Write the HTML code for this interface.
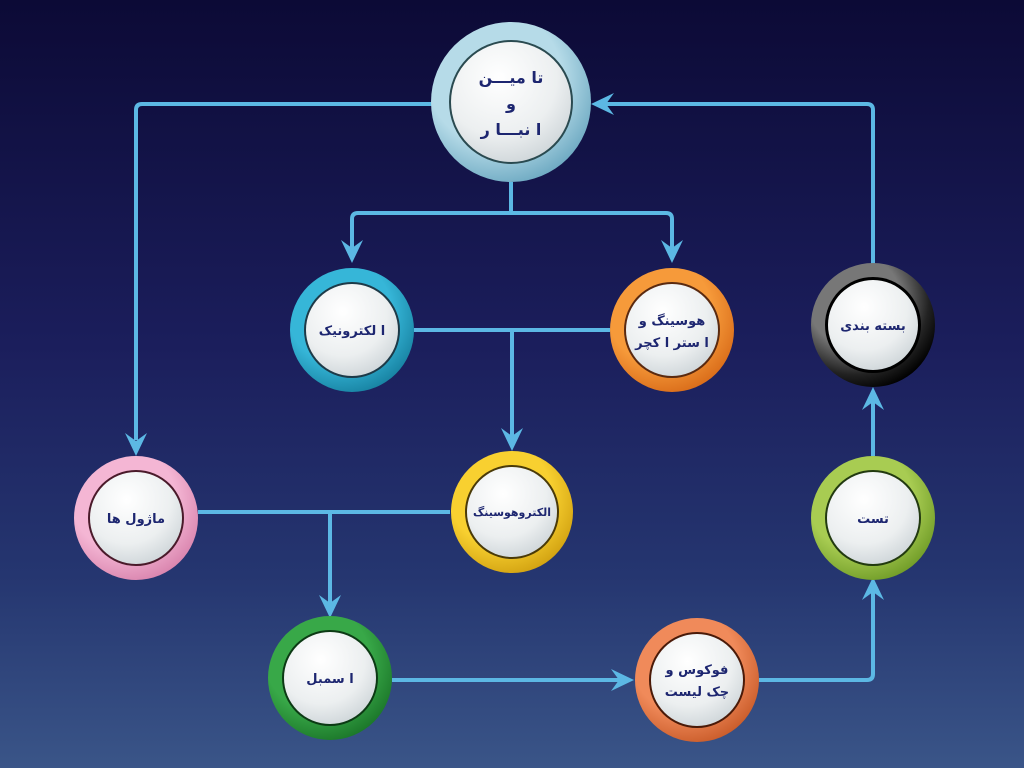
<!DOCTYPE html>
<html><head><meta charset="utf-8"><style>
html,body{margin:0;padding:0;width:1024px;height:768px;overflow:hidden;background:#0e0d3c}
svg{display:block}
text{font-family:"DejaVu Sans","Liberation Sans",sans-serif;font-weight:bold;fill:#1d2670;font-size:13px}
</style></head><body>
<svg width="1024" height="768" viewBox="0 0 1024 768" xmlns="http://www.w3.org/2000/svg">
<defs>
<linearGradient id="bg" x1="0" y1="0" x2="0" y2="1">
<stop offset="0" stop-color="#0c0a36"/><stop offset="0.45" stop-color="#1b1e5c"/><stop offset="0.75" stop-color="#253670"/><stop offset="1" stop-color="#3a5588"/></linearGradient>
<radialGradient id="inner" cx="0.4" cy="0.3" r="0.8"><stop offset="0" stop-color="#ffffff"/><stop offset="0.6" stop-color="#eceff0"/><stop offset="1" stop-color="#c8d0d4"/></radialGradient>
<radialGradient id="gblue" cx="0.4" cy="0.35" r="0.7"><stop offset="0.6" stop-color="#b6dbe8"/><stop offset="1" stop-color="#6aa7c0"/></radialGradient>
<radialGradient id="gcyan" cx="0.4" cy="0.35" r="0.7"><stop offset="0.6" stop-color="#36b6d8"/><stop offset="1" stop-color="#16809f"/></radialGradient>
<radialGradient id="gorange" cx="0.4" cy="0.35" r="0.7"><stop offset="0.6" stop-color="#f69a3a"/><stop offset="1" stop-color="#d86a18"/></radialGradient>
<radialGradient id="gblack" cx="0.35" cy="0.3" r="0.75"><stop offset="0.5" stop-color="#777"/><stop offset="0.8" stop-color="#222"/><stop offset="1" stop-color="#000"/></radialGradient>
<radialGradient id="gpink" cx="0.4" cy="0.35" r="0.7"><stop offset="0.6" stop-color="#f4b6d4"/><stop offset="1" stop-color="#d882ac"/></radialGradient>
<radialGradient id="gyellow" cx="0.4" cy="0.35" r="0.7"><stop offset="0.6" stop-color="#f8d030"/><stop offset="1" stop-color="#d0a010"/></radialGradient>
<radialGradient id="glime" cx="0.4" cy="0.35" r="0.7"><stop offset="0.6" stop-color="#a8cc52"/><stop offset="1" stop-color="#6e9a26"/></radialGradient>
<radialGradient id="ggreen" cx="0.4" cy="0.35" r="0.7"><stop offset="0.6" stop-color="#38a848"/><stop offset="1" stop-color="#1a7428"/></radialGradient>
<radialGradient id="gred" cx="0.4" cy="0.35" r="0.7"><stop offset="0.6" stop-color="#f08a5a"/><stop offset="1" stop-color="#c85a28"/></radialGradient>
</defs>
<rect width="1024" height="768" fill="url(#bg)"/>
<g stroke="#5cb8e4" stroke-width="4" fill="none" stroke-linejoin="round">
<path d="M432 104 H142 Q136 104 136 110 V440"/>
<path d="M873 270 V110 Q873 104 867 104 H600"/>
<path d="M511 182 V213 M358 213 H666 M352 250 V219 Q352 213 358 213 M672 250 V219 Q672 213 666 213"/>
<path d="M414 330 H610 M512 330 V440"/>
<path d="M198 512 H450 M330 512 V605"/>
<path d="M392 680 H624"/>
<path d="M759 680 H867 Q873 680 873 674 V590"/>
<path d="M873 456 V400"/>
</g>
<g fill="#5cb8e4">
<polygon points="125,433 136,441 147,433 136,456"/>
<polygon points="341,240 352,248 363,240 352,263"/>
<polygon points="661,240 672,248 683,240 672,263"/>
<polygon points="501,428 512,436 523,428 512,451"/>
<polygon points="319,595 330,603 341,595 330,618"/>
<polygon points="611,669 619,680 611,691 634,680"/>
<polygon points="862,600 873,592 884,600 873,577"/>
<polygon points="862,410 873,402 884,410 873,387"/>
<polygon points="614,93 606,104 614,115 591,104"/>
</g>
<g>
<circle cx="511" cy="102" r="80" fill="url(#gblue)"/><circle cx="511" cy="102" r="62" fill="#2a4a50"/><circle cx="511" cy="102" r="60" fill="url(#inner)"/>
<circle cx="352" cy="330" r="62" fill="url(#gcyan)"/><circle cx="352" cy="330" r="48" fill="#1d3a48"/><circle cx="352" cy="330" r="46" fill="url(#inner)"/>
<circle cx="672" cy="330" r="62" fill="url(#gorange)"/><circle cx="672" cy="330" r="48" fill="#5a2a10"/><circle cx="672" cy="330" r="46" fill="url(#inner)"/>
<circle cx="873" cy="325" r="62" fill="url(#gblack)"/><circle cx="873" cy="325" r="48" fill="#000"/><circle cx="873" cy="325" r="45" fill="url(#inner)"/>
<circle cx="136" cy="518" r="62" fill="url(#gpink)"/><circle cx="136" cy="518" r="48" fill="#4a1a2a"/><circle cx="136" cy="518" r="46" fill="url(#inner)"/>
<circle cx="512" cy="512" r="61" fill="url(#gyellow)"/><circle cx="512" cy="512" r="47" fill="#4a3a08"/><circle cx="512" cy="512" r="45" fill="url(#inner)"/>
<circle cx="873" cy="518" r="62" fill="url(#glime)"/><circle cx="873" cy="518" r="48" fill="#223a10"/><circle cx="873" cy="518" r="46" fill="url(#inner)"/>
<circle cx="330" cy="678" r="62" fill="url(#ggreen)"/><circle cx="330" cy="678" r="48" fill="#0c3a14"/><circle cx="330" cy="678" r="46" fill="url(#inner)"/>
<circle cx="697" cy="680" r="62" fill="url(#gred)"/><circle cx="697" cy="680" r="48" fill="#4a1a08"/><circle cx="697" cy="680" r="46" fill="url(#inner)"/>
</g>
<g text-anchor="middle">
<text x="511" y="83" style="font-size:16px">تا میـــن</text>
<text x="511" y="109" style="font-size:16px">و</text>
<text x="511" y="135" style="font-size:16px">ا نبـــا ر</text>
<text x="352" y="335">ا لکترونیک</text>
<text x="672" y="325">هوسینگ و</text>
<text x="672" y="347">ا ستر ا کچر</text>
<text x="873" y="330">بسته بندی</text>
<text x="136" y="523">ماژول ها</text>
<text x="512" y="516" style="font-size:11px">الکتروهوسینگ</text>
<text x="873" y="523">تست</text>
<text x="330" y="683">ا سمبل</text>
<text x="697" y="674">فوکوس و</text>
<text x="697" y="696">چک لیست</text>
</g>
</svg>
</body></html>
